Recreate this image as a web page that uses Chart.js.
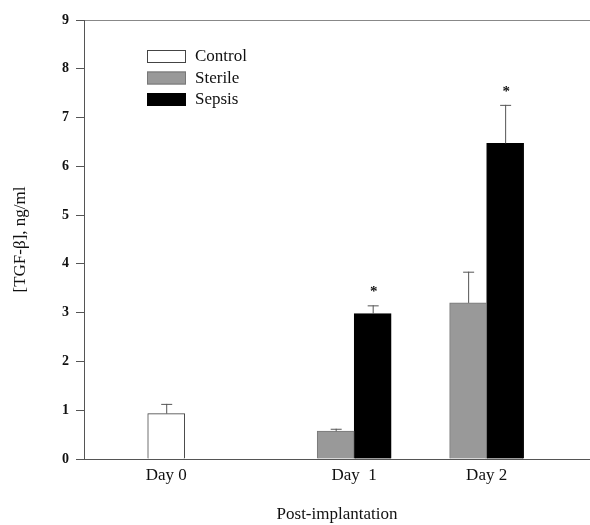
<!DOCTYPE html>
<html>
<head>
<meta charset="utf-8">
<title>TGF-beta post-implantation</title>
<script src="https://cdn.jsdelivr.net/npm/chart.js@4/dist/chart.umd.min.js"></script>
<style>
  html, body { margin: 0; padding: 0; background: #fff; }
  #wrap { width: 590px; height: 525px; position: relative; }
</style>
</head>
<body>
<div id="wrap"><canvas id="chart"></canvas></div>
<script>
// values
var days = ['Day 0', 'Day  1', 'Day 2']
var control = [0.93, null, null]
var controlErr = [0.2, null, null]
var sterile = [null, 0.57, 3.2]
var sterileErr = [null, 0.05, 0.64]
var sepsis = [null, 2.98, 6.47]
var sepsisErr = [null, 0.17, 0.79]
var sepsisStar = [false, true, true]
var yTicks = [0, 1, 2, 3, 4, 5, 6, 7, 8, 9]

var serif = '"Liberation Serif", "DejaVu Serif", serif'

function toPoints(arr) {
  return arr.map(function (v, i) { return { x: i, y: v } })
}

// error bars (upper only), stars and x labels, drawn from the bar elements
var extras = {
  id: 'extras',
  afterDatasetsDraw: function (chart) {
    var ctx = chart.ctx
    var y = chart.scales.y
    var errs = [controlErr, sterileErr, sepsisErr]
    ctx.save()
    chart.data.datasets.forEach(function (ds, di) {
      var meta = chart.getDatasetMeta(di)
      meta.data.forEach(function (bar, i) {
        var v = ds.data[i].y
        if (v === null) return
        var e = errs[di][i]
        var top = y.getPixelForValue(v + e)
        ctx.strokeStyle = '#555'
        ctx.lineWidth = 1
        ctx.beginPath()
        ctx.moveTo(bar.x + 0.5, bar.y)
        ctx.lineTo(bar.x + 0.5, top)
        ctx.moveTo(bar.x - 5, top + 0.5)
        ctx.lineTo(bar.x + 6, top + 0.5)
        ctx.stroke()
        if (di === 2 && sepsisStar[i]) {
          ctx.fillStyle = '#111'
          ctx.font = 'bold 15px ' + serif
          ctx.textAlign = 'center'
          ctx.textBaseline = 'middle'
          ctx.fillText('*', bar.x + 1, top - 13)
        }
      })
    })
    ctx.restore()
  },
  afterDraw: function (chart) {
    var ctx = chart.ctx
    var area = chart.chartArea
    ctx.save()
    // category labels centred under the bars that are shown
    ctx.fillStyle = '#111'
    ctx.font = '17px ' + serif
    ctx.textAlign = 'center'
    ctx.textBaseline = 'middle'
    days.forEach(function (d, i) {
      var xs = []
      chart.data.datasets.forEach(function (ds, di) {
        if (ds.data[i].y !== null) xs.push(chart.getDatasetMeta(di).data[i].x)
      })
      var cx = (Math.min.apply(null, xs) + Math.max.apply(null, xs)) / 2
      ctx.fillText(d, cx, area.bottom + 17)
    })
    // legend inside the plot
    var lx = area.left + 63
    var ly = area.top + 36
    ctx.font = '17px ' + serif
    ctx.textAlign = 'left'
    chart.data.datasets.forEach(function (ds, di) {
      var ry = ly + di * 21.5
      ctx.fillStyle = ds.backgroundColor
      ctx.fillRect(lx, ry - 6, 39, 13)
      ctx.strokeStyle = ds.borderColor
      ctx.lineWidth = 1
      ctx.strokeRect(lx + 0.5, ry - 5.5, 38, 12)
      ctx.fillStyle = '#111'
      ctx.fillText(ds.label, lx + 48, ry + 1)
    })
    ctx.restore()
  }
}

new Chart(document.getElementById('chart'), {
  type: 'bar',
  data: {
    datasets: [
      { label: 'Control', data: toPoints(control), backgroundColor: '#ffffff', borderColor: '#444', borderWidth: 1 },
      { label: 'Sterile', data: toPoints(sterile), backgroundColor: '#999999', borderColor: '#777', borderWidth: 1 },
      { label: 'Sepsis', data: toPoints(sepsis), backgroundColor: '#000000', borderColor: '#000', borderWidth: 1 }
    ]
  },
  options: {
    responsive: true,
    maintainAspectRatio: false,
    animation: false,
    events: [],
    layout: { padding: { top: 20, right: 0, left: 0, bottom: 0 } },
    datasets: { bar: { barThickness: 37 } },
    plugins: { legend: { display: false }, tooltip: { enabled: false } },
    scales: {
      x: {
        type: 'linear',
        offset: false,
        min: -0.9,
        max: 2.92,
        afterBuildTicks: function (s) { s.ticks = days.map(function (d, i) { return { value: i } }) },
        grid: { display: false },
        border: { display: true, color: '#555', width: 1 },
        ticks: { display: false },
        title: {
          display: true,
          text: 'Post-implantation',
          color: '#111',
          font: { family: serif, size: 17 },
          padding: { top: 0, bottom: 0 }
        },
        afterFit: function (s) { s.height = 66 }
      },
      y: {
        min: 0,
        max: 9,
        afterBuildTicks: function (s) { s.ticks = yTicks.map(function (v) { return { value: v } }) },
        grid: {
          drawOnChartArea: true,
          color: function (c) { return c.tick && c.tick.value === 9 ? '#888' : 'rgba(0,0,0,0)' },
          tickColor: '#555',
          tickLength: 8,
          lineWidth: 1
        },
        border: { display: true, color: '#555', width: 1 },
        ticks: {
          color: '#111',
          padding: 7,
          font: { family: serif, size: 14, weight: 'bold' }
        },
        title: {
          display: true,
          text: '[TGF-β], ng/ml',
          color: '#111',
          font: { family: serif, size: 17 },
          padding: { top: 10, bottom: 0 }
        },
        afterFit: function (s) { s.width = 84 }
      }
    }
  },
  plugins: [extras]
})
</script>
</body>
</html>
